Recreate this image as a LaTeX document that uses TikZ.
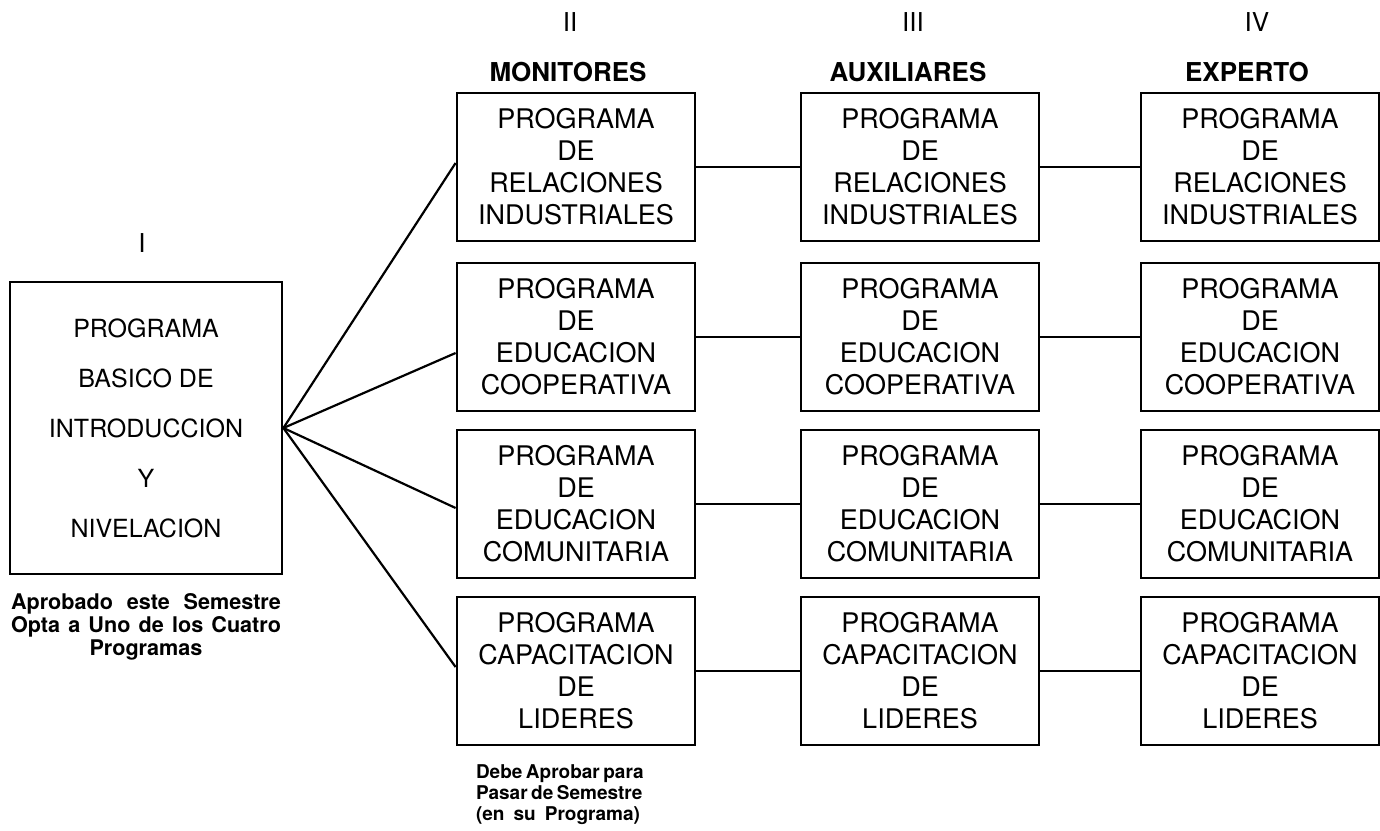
\documentclass[tikz,border=0pt]{standalone}
\usepackage{fontspec}
\setmainfont{TeX Gyre Heros}
\usetikzlibrary{positioning}
\def\W{119pt}
\def\H{74pt}
\tikzset{
  prog/.style={draw,line width=1.4pt,minimum width=\W,minimum height=\H,
    align=center,inner sep=0pt,font=\fontsize{13.5}{16}\selectfont},
  basebox/.style={draw,line width=1.4pt,minimum width=136pt,minimum height=146pt,
    align=center,inner sep=0pt,font=\fontsize{12.5}{25}\selectfont},
  rank/.style={font=\fontsize{13}{15}\selectfont},
  level/.style={font=\bfseries\fontsize{13}{15}\selectfont},
  note/.style={font=\bfseries\fontsize{9.5}{10.5}\selectfont,align=center,inner sep=0pt},
  fan/.style={line width=1.1pt},
  link/.style={line width=0.9pt},
}

\begin{document}
\begin{tikzpicture}[x=0.5pt,y=-0.5pt]
\useasboundingbox (0,0) rectangle (1380,830);
% stage headers
\node[rank] (rI) at (142,243) {I};
\node[rank] (rII) at (570,22) {II};
\node[rank] (rIII) at (913,22) {III};
\node[rank] (rIV) at (1257,22) {IV};
\node[level] (lmon) at (568,72) {MONITORES};
\node[level] (laux) at (908,72) {AUXILIARES};
\node[level] (lexp) at (1247,72) {EXPERTO};
% basic program
\node[basebox] (intro) at (146,428) {PROGRAMA\\BASICO DE\\INTRODUCCION\\Y\\NIVELACION};
\node[note,font=\bfseries\fontsize{10.8}{11.5}\selectfont,below=9pt of intro] (introcap)
  {\makebox[135pt][s]{Aprobado este Semestre}\\\makebox[135pt][s]{Opta a Uno de los Cuatro}\\Programas};
% programs per stage
\foreach \r/\y/\txt in {1/167/{PROGRAMA\\DE\\RELACIONES\\INDUSTRIALES},
                        2/337/{PROGRAMA\\DE\\EDUCACION\\COOPERATIVA},
                        3/504/{PROGRAMA\\DE\\EDUCACION\\COMUNITARIA},
                        4/671/{PROGRAMA\\CAPACITACION\\DE\\LIDERES}}{
  \foreach \c/\x in {2/576,3/920,4/1260}
    \node[prog] (b\r\c) at (\x,\y) {\txt};
}
\node[note,below=9pt of b42,xshift=-9pt] (passcap)
  {\makebox[82pt][s]{Debe Aprobar para}\\\makebox[82pt][s]{Pasar de Semestre}\\\makebox[82pt][s]{(en su Programa)}};
% connectors
\foreach \r/\dy in {1/2pt,2/-8pt,3/-2pt,4/2pt}{
  \draw[fan] (intro.east) -- ([yshift=\dy]b\r2.west);
  \draw[link] (b\r2.east) -- (b\r3.west);
  \draw[link] (b\r3.east) -- (b\r4.west);
}
\end{tikzpicture}
\end{document}
